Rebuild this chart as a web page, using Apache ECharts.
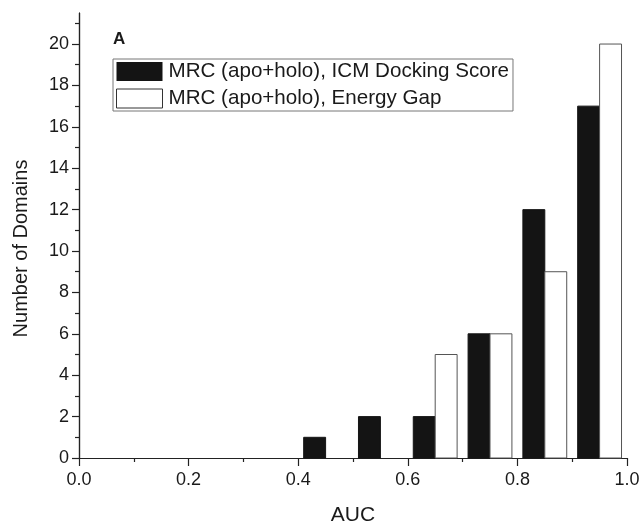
<!DOCTYPE html>
<html>
<head>
<meta charset="utf-8">
<script src="https://cdn.jsdelivr.net/npm/echarts@6/dist/echarts.min.js"></script>
<style>
  html, body { margin: 0; padding: 0; background: #fff; }
  #chart { width: 641px; height: 525px; }
</style>
</head>
<body>
<div id="chart"></div>
<script>
  // histogram bins (start of each 0.1 AUC bin) and counts per method
  const binStarts = [0.4, 0.5, 0.6, 0.7, 0.8, 0.9];
  const dockingCounts = [1, 2, 2, 6, 12, 17];
  const gapCounts = [0, 0, 5, 6, 9, 20];
  const seriesNames = ['MRC (apo+holo), ICM Docking Score', 'MRC (apo+holo), Energy Gap'];
  const yMajorTicks = [0, 2, 4, 6, 8, 10, 12, 14, 16, 18, 20];
  const yMinorTicks = [1, 3, 5, 7, 9, 11, 13, 15, 17, 19, 21];

  const textColor = '#1a1a1a';
  const axisColor = '#222';

  function barRenderer(offset, fill, stroke) {
    return function (params, api) {
      let x0 = api.value(0) + offset;
      let v = api.value(1);
      if (!v) return null;
      let p0 = api.coord([x0, 0]);
      let p1 = api.coord([x0 + 0.04, v]);
      return {
        type: 'rect',
        shape: { x: p0[0], y: p1[1], width: p1[0] - p0[0], height: p0[1] - p1[1] },
        style: { fill: fill, stroke: stroke, lineWidth: 1 }
      };
    };
  }

  let myChart = echarts.init(document.getElementById('chart'));
  let yAxisBase = {
    type: 'value',
    min: 0,
    max: 21.5,
    position: 'left',
    splitLine: { show: false },
    axisLine: { show: true, lineStyle: { color: axisColor, width: 1.2 } }
  };
  let option = {
    animation: false,
    backgroundColor: '#fff',
    textStyle: { fontFamily: 'Liberation Sans, Arial, sans-serif' },
    grid: { left: 79, right: 14, top: 13, bottom: 67, containLabel: false, outerBoundsMode: 'none' },
    title: {
      text: 'A',
      left: 113,
      top: 31,
      padding: 0,
      textStyle: { fontSize: 17, fontWeight: 'bold', color: textColor, fontFamily: 'Liberation Sans, Arial, sans-serif' }
    },
    legend: {
      orient: 'vertical',
      left: 113,
      top: 59,
      padding: [2, 4, 2, 3],
      itemGap: 6,
      itemWidth: 46,
      itemHeight: 19,
      borderColor: '#777',
      borderWidth: 1,
      selectedMode: false,
      textStyle: { fontSize: 20.6, color: textColor, padding: [0, 0, 0, 1] },
      data: [
        { name: seriesNames[0], icon: 'rect', itemStyle: { color: '#141414', borderWidth: 0 } },
        { name: seriesNames[1], icon: 'rect', itemStyle: { color: '#fff', borderColor: '#333', borderWidth: 1 } }
      ]
    },
    xAxis: {
      type: 'value',
      min: 0,
      max: 1,
      interval: 0.2,
      name: 'AUC',
      nameLocation: 'middle',
      nameGap: 47,
      nameTextStyle: { fontSize: 21, color: textColor },
      splitLine: { show: false },
      axisLine: { show: true, lineStyle: { color: axisColor, width: 1.2 } },
      axisTick: { show: true, length: 8, lineStyle: { color: axisColor, width: 1.2 } },
      minorTick: { show: true, splitNumber: 2, length: 4, lineStyle: { color: axisColor, width: 1.2 } },
      axisLabel: { fontSize: 18, color: textColor, margin: 13, formatter: v => v.toFixed(1) }
    },
    yAxis: [
      Object.assign({}, yAxisBase, {
        name: 'Number of Domains',
        nameLocation: 'middle',
        nameGap: 48,
        nameTextStyle: { fontSize: 20, color: textColor, padding: [0, 26, 0, 0] },
        axisTick: { show: true, length: 7, customValues: yMajorTicks, lineStyle: { color: axisColor, width: 1.2 } },
        axisLabel: { fontSize: 18, color: textColor, margin: 10, customValues: yMajorTicks }
      }),
      Object.assign({}, yAxisBase, {
        axisTick: { show: true, length: 4, customValues: yMinorTicks, lineStyle: { color: axisColor, width: 1.2 } },
        axisLabel: { show: false }
      })
    ],
    series: [
      {
        name: seriesNames[0],
        type: 'custom',
        itemStyle: { color: '#141414' },
        renderItem: barRenderer(0.01, '#141414', '#141414'),
        encode: { x: 0, y: 1 },
        data: binStarts.map((b, i) => [b, dockingCounts[i]])
      },
      {
        name: seriesNames[1],
        type: 'custom',
        itemStyle: { color: '#fff', borderColor: '#333', borderWidth: 1 },
        renderItem: barRenderer(0.05, '#fff', '#555'),
        encode: { x: 0, y: 1 },
        data: binStarts.map((b, i) => [b, gapCounts[i]])
      }
    ]
  };
  myChart.setOption(option);
</script>
</body>
</html>
